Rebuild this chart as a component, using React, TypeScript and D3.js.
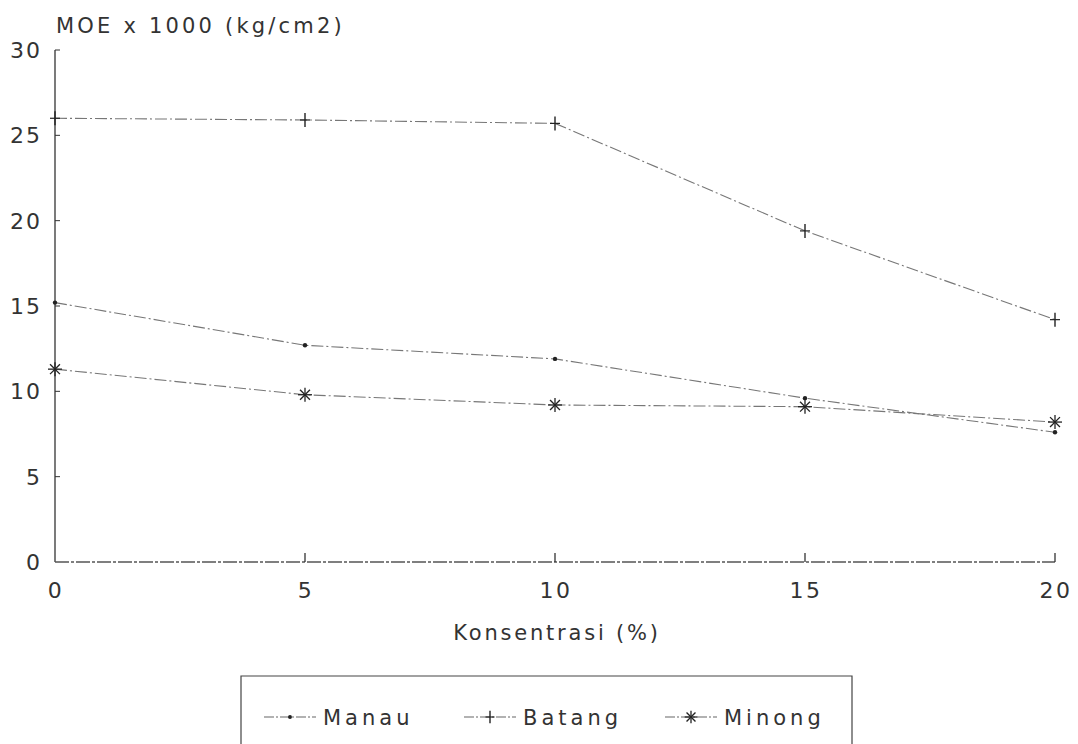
import React, { useEffect, useRef } from "react";
import * as d3 from "d3";

const konsentrasi = [0, 5, 10, 15, 20];
const manau = [15.2, 12.7, 11.9, 9.6, 7.6];
const batang = [26.0, 25.9, 25.7, 19.4, 14.2];
const minong = [11.3, 9.8, 9.2, 9.1, 8.2];
const yTicks = [0, 5, 10, 15, 20, 25, 30];

const series = [
  { name: "Manau", values: manau, marker: "dot" },
  { name: "Batang", values: batang, marker: "plus" },
  { name: "Minong", values: minong, marker: "star" },
];

const W = 1078;
const H = 744;
const FONT = "'DejaVu Sans', sans-serif";

const App = () => {
  const svgRef = useRef<SVGSVGElement>(null);

  useEffect(() => {
    const svg = d3.select(svgRef.current);
    svg.selectAll("*").remove();

    const x = d3.scaleLinear().domain([0, 20]).range([55, 1055]);
    const y = d3.scaleLinear().domain([0, 30]).range([562, 50]);

    // 마커 그리기
    const drawMarker = (g: any, type: string, cx: number, cy: number, s = 1) => {
      if (type === "dot") {
        g.append("circle").attr("cx", cx).attr("cy", cy).attr("r", 2.2 * s).attr("fill", "#222");
      } else if (type === "plus") {
        g.append("line").attr("x1", cx).attr("x2", cx).attr("y1", cy - 7 * s).attr("y2", cy + 7 * s)
          .attr("stroke", "#222").attr("stroke-width", 1.4);
        g.append("line").attr("x1", cx - 5 * s).attr("x2", cx + 5 * s).attr("y1", cy).attr("y2", cy)
          .attr("stroke", "#222").attr("stroke-width", 1.2);
      } else {
        const r = 7 * s;
        [0, 45, 90, 135].forEach((a) => {
          const rad = (a * Math.PI) / 180;
          g.append("line")
            .attr("x1", cx - r * Math.cos(rad)).attr("y1", cy - r * Math.sin(rad))
            .attr("x2", cx + r * Math.cos(rad)).attr("y2", cy + r * Math.sin(rad))
            .attr("stroke", "#222").attr("stroke-width", 1.3);
        });
      }
    };

    const txt = (sel: any, size: number, spacing: number) =>
      sel.attr("font-family", FONT).attr("font-size", size)
        .attr("letter-spacing", spacing).attr("fill", "#333");

    // 축
    const axis = svg.append("g").attr("stroke", "#333").attr("stroke-width", 1.3);
    axis.append("line").attr("x1", x(0)).attr("x2", x(0)).attr("y1", y(30)).attr("y2", y(0));
    axis.append("line").attr("x1", x(0)).attr("x2", x(20)).attr("y1", y(0)).attr("y2", y(0))
      .attr("stroke-dasharray", "14 2 3 2").attr("stroke", "#555");
    konsentrasi.slice(1).forEach((k) => {
      axis.append("line").attr("x1", x(k)).attr("x2", x(k)).attr("y1", y(0)).attr("y2", y(0) - 9);
    });
    yTicks.slice(1).forEach((t) => {
      axis.append("line").attr("x1", x(0)).attr("x2", x(0) + 5).attr("y1", y(t)).attr("y2", y(t))
        .attr("stroke-width", 1);
    });

    // 눈금 라벨
    txt(svg.append("g").selectAll("text").data(yTicks).join("text"), 22, 2)
      .attr("x", 42).attr("y", (d: number) => y(d) + 8).attr("text-anchor", "end")
      .text((d: number) => d);
    txt(svg.append("g").selectAll("text").data(konsentrasi).join("text"), 22, 2.5)
      .attr("x", (d: number) => x(d) + 1).attr("y", 598).attr("text-anchor", "middle")
      .text((d: number) => d);

    txt(svg.append("text"), 21, 3.2).attr("x", 56).attr("y", 33)
      .text("MOE x 1000 (kg/cm2)");
    txt(svg.append("text"), 21, 2.8).attr("x", 557).attr("y", 640).attr("text-anchor", "middle")
      .text("Konsentrasi (%)");

    // 선
    const line = d3.line<number>().x((_, i) => x(konsentrasi[i])).y((d) => y(d));
    series.forEach((s) => {
      svg.append("path").attr("d", line(s.values)).attr("fill", "none")
        .attr("stroke", "#777").attr("stroke-width", 1.1).attr("stroke-dasharray", "12 3 2 3");
      const g = svg.append("g");
      s.values.forEach((v, i) => drawMarker(g, s.marker, x(konsentrasi[i]), y(v)));
    });

    // 범례
    const lg = svg.append("g");
    lg.append("path").attr("d", `M241,${H} V676 H852 V${H}`).attr("fill", "none")
      .attr("stroke", "#444").attr("stroke-width", 1.2);
    const lx = [264, 464, 665];
    series.forEach((s, i) => {
      const cy = 717;
      lg.append("line").attr("x1", lx[i]).attr("x2", lx[i] + 52).attr("y1", cy).attr("y2", cy)
        .attr("stroke", "#666").attr("stroke-width", 1.1).attr("stroke-dasharray", "10 2 2 2");
      drawMarker(lg, s.marker, lx[i] + 26, cy, 0.9);
      txt(lg.append("text"), 21, 4).attr("x", lx[i] + 59).attr("y", cy + 8).text(s.name);
    });
  }, []);

  return (
    <div style={{ width: W, height: H }}>
      <svg ref={svgRef} width={W} height={H} style={{ position: "absolute", left: 0, top: 0 }}></svg>
    </div>
  );
};

export default App;
